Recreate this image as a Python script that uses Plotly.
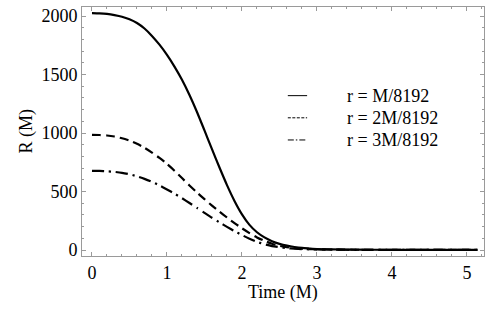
import plotly.graph_objects as go

time = [0.0, 0.1, 0.2, 0.3, 0.4, 0.5, 0.6, 0.7, 0.8, 0.9, 1.0, 1.1, 1.2, 1.3, 1.4,
        1.5, 1.6, 1.7, 1.8, 1.9, 2.0, 2.1, 2.2, 2.3, 2.4, 2.5, 2.6, 2.7, 2.8, 2.9,
        3.0, 3.2, 3.5, 4.0, 4.5, 5.14]

r1 = [2025, 2023, 2018, 2008, 1994, 1972, 1940, 1893, 1830, 1755, 1668, 1568, 1455,
      1325, 1180, 1022, 862, 705, 555, 420, 305, 215, 152, 108, 76, 53, 37, 26, 18,
      13, 9, 6, 3.5, 2, 1.5, 1]
r2 = [984, 983, 979, 970, 955, 935, 908, 874, 833, 787, 736, 678, 615, 552, 492,
      435, 380, 328, 278, 230, 186, 145, 108, 78, 54, 36, 24, 16, 11, 8, 6, 4, 2.5,
      1.5, 1, 1]
r3 = [677, 676, 673, 668, 660, 648, 630, 608, 583, 552, 518, 482, 443, 402, 360,
      318, 276, 236, 198, 162, 128, 97, 70, 49, 34, 24, 16, 11, 8, 6, 5, 3, 2,
      1.5, 1, 1]

labels = ["r = M/8192", "r = 2M/8192", "r = 3M/8192"]
series = [r1, r2, r3]
dashes = ["solid", "9px,5px", "12px,5px,2px,5px"]
legend_dashes = ["solid", "3px,1.5px", "6px,2px,1.5px,2px"]

FONT = "Liberation Serif, Times New Roman, serif"
GRAY = "#9a9a9a"

fig = go.Figure()
for vals, name, d in zip(series, labels, dashes):
    fig.add_trace(go.Scatter(x=time, y=vals, mode="lines", name=name,
                             line=dict(color="black", width=2.2, dash=d,
                                       shape="spline", smoothing=0.6),
                             showlegend=False, hoverinfo="skip"))

# manual legend
rows_y = [0.644, 0.555, 0.466]
for name, d, yy in zip(labels, legend_dashes, rows_y):
    fig.add_shape(type="line", xref="paper", yref="paper",
                  x0=0.512, x1=0.56, y0=yy, y1=yy,
                  line=dict(color="black", width=1, dash=d))
    fig.add_annotation(xref="paper", yref="paper", x=0.654, y=yy, text=name,
                       showarrow=False, xanchor="left", yanchor="middle",
                       font=dict(family=FONT, size=18, color="black"))

# axis titles
fig.add_annotation(xref="paper", yref="paper", x=0.5, y=-0.147, text="Time (M)",
                   showarrow=False, xanchor="center", yanchor="middle",
                   font=dict(family=FONT, size=18, color="black"))
fig.add_annotation(xref="paper", yref="paper", x=-0.139, y=0.5, text="R (M)",
                   showarrow=False, xanchor="center", yanchor="middle", textangle=-90,
                   font=dict(family=FONT, size=18, color="black"))

axis_common = dict(showline=True, linecolor=GRAY, linewidth=1, mirror="ticks",
                   ticks="inside", tickcolor=GRAY, ticklen=4, showgrid=False,
                   zeroline=False, automargin=False,
                   tickfont=dict(family=FONT, size=18, color="black"))

fig.update_xaxes(range=[-0.133, 5.227], tickvals=[0, 1, 2, 3, 4, 5],
                 minor=dict(dtick=0.2, tick0=0, ticks="inside", ticklen=2,
                            tickcolor=GRAY, showgrid=False),
                 **axis_common)
fig.update_yaxes(range=[-51, 2077], tickvals=[0, 500, 1000, 1500, 2000],
                 minor=dict(dtick=100, tick0=0, ticks="inside", ticklen=2,
                            tickcolor=GRAY, showgrid=False),
                 **axis_common)

fig.update_layout(width=500, height=309, plot_bgcolor="white", paper_bgcolor="white",
                  margin=dict(l=82, r=16, t=7, b=53), showlegend=False)

fig.write_html("out.html", config={"displayModeBar": False},
               post_script="document.body.style.margin='0';document.body.style.overflow='hidden';")
